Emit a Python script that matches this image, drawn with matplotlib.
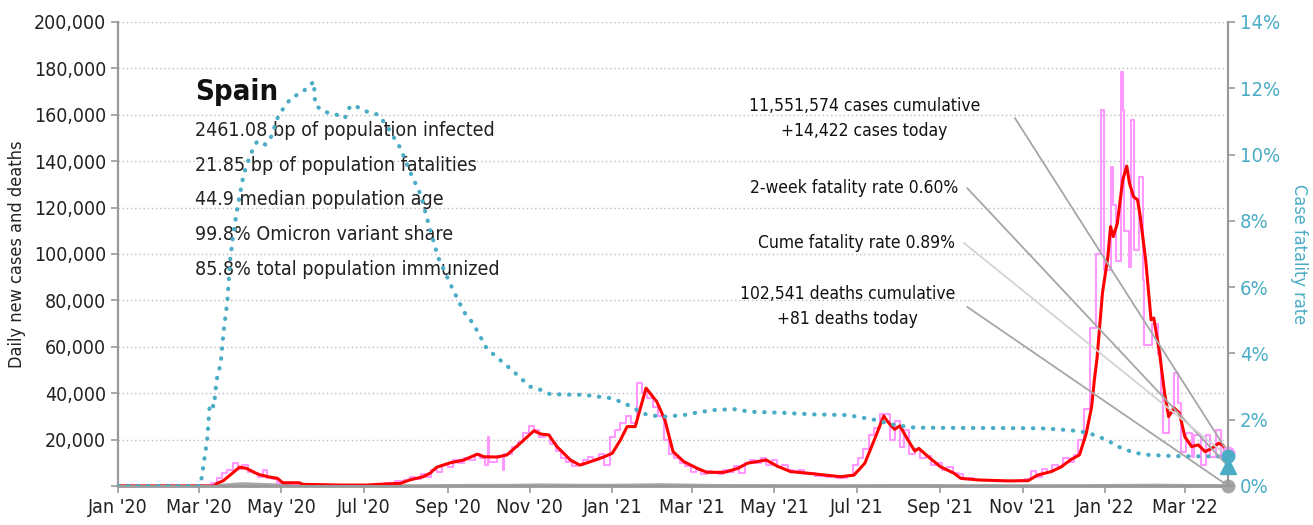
import pandas as pd
import matplotlib
matplotlib.use('Agg')
import matplotlib.pyplot as plt
import matplotlib.dates as mdates
from matplotlib.ticker import FuncFormatter, MultipleLocator

plt.rcParams['font.family'] = ['DejaVu Sans']
plt.rcParams['font.stretch'] = 'condensed'

# 7-day average of new cases (red)
avg_dates = ['2020-01-01', '2020-03-12', '2020-03-14', '2020-03-19', '2020-03-24', '2020-03-31',
             '2020-04-05', '2020-04-14', '2020-04-21', '2020-04-28', '2020-05-02', '2020-05-14',
             '2020-05-17', '2020-06-14', '2020-07-03', '2020-07-18', '2020-07-28', '2020-08-04',
             '2020-08-14', '2020-08-19', '2020-08-24', '2020-09-03', '2020-09-13', '2020-09-23',
             '2020-09-28', '2020-10-08', '2020-10-15', '2020-10-25', '2020-11-04', '2020-11-09',
             '2020-11-15', '2020-11-21', '2020-12-01', '2020-12-08', '2020-12-16', '2020-12-26',
             '2021-01-01', '2021-01-07', '2021-01-12', '2021-01-18', '2021-01-26', '2021-02-03',
             '2021-02-09', '2021-02-15', '2021-02-23', '2021-03-05', '2021-03-12', '2021-03-25',
             '2021-04-04', '2021-04-11', '2021-04-25', '2021-05-03', '2021-05-13', '2021-05-26',
             '2021-06-19', '2021-06-29', '2021-07-07', '2021-07-14', '2021-07-21', '2021-07-24',
             '2021-07-29', '2021-08-02', '2021-08-08', '2021-08-13', '2021-08-16', '2021-08-23',
             '2021-09-01', '2021-09-11', '2021-09-16', '2021-09-29', '2021-10-21', '2021-11-05',
             '2021-11-12', '2021-11-22', '2021-11-29', '2021-12-07', '2021-12-13', '2021-12-18',
             '2021-12-22', '2021-12-24', '2021-12-26', '2021-12-30', '2022-01-03', '2022-01-05',
             '2022-01-07', '2022-01-10', '2022-01-14', '2022-01-17', '2022-01-19', '2022-01-22',
             '2022-01-25', '2022-01-27', '2022-01-31', '2022-02-04', '2022-02-06', '2022-02-10',
             '2022-02-14', '2022-02-17', '2022-02-21', '2022-02-25', '2022-03-01', '2022-03-06',
             '2022-03-11', '2022-03-16', '2022-03-21', '2022-03-26', '2022-03-29', '2022-04-02']
avg_cases = [0, 0, 1000, 2300, 4700, 8100,
             7600, 5000, 4000, 3300, 1400, 1400,
             700, 400, 400, 900, 1100, 2600,
             4000, 5500, 8100, 10000, 11200, 13700,
             12600, 12500, 13400, 18500, 23800, 22400,
             22000, 17000, 11200, 9000, 10500, 12600,
             14100, 19800, 25600, 25600, 42200, 36300,
             28400, 14800, 10500, 7600, 5900, 5900,
             7600, 9800, 11200, 8600, 6200, 5500,
             4000, 4700, 9800, 19800, 30200, 27700,
             24400, 25900, 19800, 15100, 16200, 12600,
             8300, 5500, 3300, 2600, 2200, 2300,
             4700, 6200, 8100, 11500, 13400, 22700,
             34200, 45700, 55200, 83200, 98800, 111800,
             107500, 113200, 131900, 137900, 130500, 124700,
             123300, 116100, 97400, 71600, 72400, 58600,
             40100, 29900, 33600, 31500, 21200, 17000,
             17700, 14800, 16200, 18400, 17700, 14100]

# reported daily new cases (pink)
raw_dates = ['2020-01-01', '2020-03-05', '2020-03-10', '2020-03-14', '2020-03-18', '2020-03-22',
             '2020-03-26', '2020-03-30', '2020-04-02', '2020-04-06', '2020-04-10', '2020-04-14',
             '2020-04-17', '2020-04-20', '2020-04-24', '2020-04-28', '2020-05-02', '2020-05-08',
             '2020-05-15', '2020-05-20', '2020-05-25', '2020-06-15', '2020-07-01', '2020-07-10',
             '2020-07-17', '2020-07-24', '2020-07-31', '2020-08-04', '2020-08-08', '2020-08-12',
             '2020-08-16', '2020-08-20', '2020-08-24', '2020-08-28', '2020-09-01', '2020-09-05',
             '2020-09-09', '2020-09-13', '2020-09-17', '2020-09-21', '2020-09-25', '2020-09-29',
             '2020-10-01', '2020-10-02', '2020-10-08', '2020-10-12', '2020-10-13', '2020-10-19',
             '2020-10-23', '2020-10-27', '2020-10-31', '2020-11-04', '2020-11-08', '2020-11-12',
             '2020-11-16', '2020-11-20', '2020-11-24', '2020-11-28', '2020-12-02', '2020-12-06',
             '2020-12-10', '2020-12-14', '2020-12-18', '2020-12-22', '2020-12-26', '2020-12-30',
             '2021-01-03', '2021-01-07', '2021-01-11', '2021-01-15', '2021-01-19', '2021-01-23',
             '2021-01-27', '2021-01-31', '2021-02-04', '2021-02-08', '2021-02-12', '2021-02-16',
             '2021-02-20', '2021-02-24', '2021-02-28', '2021-03-04', '2021-03-08', '2021-03-12',
             '2021-03-16', '2021-03-20', '2021-03-24', '2021-03-28', '2021-04-01', '2021-04-05',
             '2021-04-09', '2021-04-13', '2021-04-17', '2021-04-21', '2021-04-25', '2021-04-29',
             '2021-05-03', '2021-05-07', '2021-05-11', '2021-05-15', '2021-05-19', '2021-05-23',
             '2021-05-27', '2021-05-31', '2021-06-04', '2021-06-08', '2021-06-12', '2021-06-16',
             '2021-06-20', '2021-06-24', '2021-06-28', '2021-07-02', '2021-07-06', '2021-07-10',
             '2021-07-14', '2021-07-18', '2021-07-22', '2021-07-26', '2021-07-29', '2021-08-02',
             '2021-08-05', '2021-08-09', '2021-08-13', '2021-08-17', '2021-08-21', '2021-08-25',
             '2021-08-29', '2021-09-02', '2021-09-06', '2021-09-10', '2021-09-14', '2021-09-18',
             '2021-09-22', '2021-09-26', '2021-10-01', '2021-10-10', '2021-10-20', '2021-10-30',
             '2021-11-03', '2021-11-07', '2021-11-11', '2021-11-15', '2021-11-19', '2021-11-23',
             '2021-11-27', '2021-12-01', '2021-12-05', '2021-12-09', '2021-12-12', '2021-12-16',
             '2021-12-21', '2021-12-25', '2021-12-29', '2021-12-31', '2022-01-05', '2022-01-07',
             '2022-01-09', '2022-01-13', '2022-01-14', '2022-01-15', '2022-01-19', '2022-01-20',
             '2022-01-22', '2022-01-26', '2022-01-29', '2022-01-30', '2022-02-05', '2022-02-09',
             '2022-02-11', '2022-02-13', '2022-02-17', '2022-02-21', '2022-02-24', '2022-02-26',
             '2022-03-02', '2022-03-06', '2022-03-08', '2022-03-13', '2022-03-17', '2022-03-20',
             '2022-03-24', '2022-03-28', '2022-04-02']
raw_cases = [0, 200, 1500, 3500, 5500, 7000,
             10000, 7500, 9000, 6000, 5500, 4000,
             7000, 3500, 3000, 1500, 1200, 800,
             500, 900, 300, 400, 500, 800,
             1200, 2000, 2500, 4000, 3000, 5000,
             4000, 7000, 6000, 9000, 8000, 11000,
             10000, 12000, 11000, 14000, 12000, 9000,
             21000, 10500, 13000, 7000, 14000, 17000,
             19000, 23000, 26000, 24000, 21000, 22000,
             18000, 15000, 12000, 10500, 8500, 9000,
             11000, 12500, 11000, 14000, 9000, 21000,
             24000, 27000, 30000, 27000, 44500, 40000,
             38000, 34000, 30000, 20000, 14000, 12000,
             10000, 8500, 6000, 7000, 5000, 6500,
             5500, 5000, 7000, 6000, 8500, 5500,
             10000, 11000, 10000, 12000, 9000, 11000,
             8000, 9000, 7000, 6500, 7000, 5000,
             5500, 4500, 4500, 4000, 4500, 3500,
             3500, 4500, 9000, 12000, 16000, 22000,
             25000, 31000, 31000, 20000, 28000, 17000,
             24000, 14000, 16000, 12000, 13000, 9000,
             10000, 7000, 8000, 5500, 5000, 3000,
             3500, 2500, 2500, 2000, 2200, 2500,
             3000, 6500, 4000, 7500, 6000, 9000,
             8000, 12000, 10500, 13500, 20000, 33000,
             68000, 100000, 162000, 93000, 137600, 121000,
             97000, 178600, 162000, 110000, 94500, 157800,
             101700, 133000, 88800, 60800, 70000, 57000,
             40000, 23000, 31500, 48700, 35800, 14700,
             22800, 12500, 22000, 9000, 22000, 12500,
             24000, 12500, 14422]

# 7-day average of deaths (grey)
death_dates = ['2020-01-01', '2020-03-08', '2020-03-20', '2020-04-02', '2020-04-15', '2020-05-01',
               '2020-05-20', '2020-07-01', '2020-08-15', '2020-09-15', '2020-10-15', '2020-11-10',
               '2020-12-10', '2021-01-01', '2021-02-05', '2021-02-25', '2021-03-20', '2021-05-01',
               '2021-06-15', '2021-08-10', '2021-09-15', '2021-11-01', '2021-12-15', '2022-01-25',
               '2022-02-10', '2022-03-01', '2022-04-02']
deaths = [0, 0, 300, 900, 600, 300,
          80, 10, 30, 150, 180, 350,
          200, 200, 450, 300, 100, 70,
          30, 120, 50, 30, 60, 200,
          250, 120, 81]

# case fatality rate, percent (teal, right axis)
cfr_dates = ['2020-01-01', '2020-03-02', '2020-03-03', '2020-03-07', '2020-03-09', '2020-03-12',
             '2020-03-14', '2020-03-17', '2020-03-19', '2020-03-22', '2020-03-24', '2020-03-26',
             '2020-03-29', '2020-04-03', '2020-04-08', '2020-04-13', '2020-04-19', '2020-04-23',
             '2020-04-29', '2020-05-08', '2020-05-17', '2020-05-25', '2020-05-26', '2020-06-01',
             '2020-06-11', '2020-06-17', '2020-06-20', '2020-06-23', '2020-07-03', '2020-07-12',
             '2020-07-19', '2020-07-28', '2020-08-04', '2020-08-12', '2020-08-18', '2020-08-25',
             '2020-09-03', '2020-09-13', '2020-09-20', '2020-09-30', '2020-10-10', '2020-10-20',
             '2020-11-01', '2020-11-09', '2020-11-16', '2020-12-11', '2020-12-21', '2020-12-31',
             '2021-01-10', '2021-01-17', '2021-01-27', '2021-02-08', '2021-02-23', '2021-03-05',
             '2021-03-17', '2021-04-01', '2021-04-13', '2021-05-06', '2021-05-30', '2021-06-24',
             '2021-07-14', '2021-07-29', '2021-08-13', '2021-11-14', '2021-11-27', '2021-12-09',
             '2021-12-19', '2021-12-27', '2022-01-03', '2022-01-13', '2022-01-23', '2022-02-02',
             '2022-02-21', '2022-04-02']
cfr = [0, 0, 0.28, 1.39, 2.5, 2.39,
       3.2, 3.7, 4.6, 5.6, 6.8, 7.5,
       8.3, 9.4, 10.0, 10.4, 10.3, 10.5,
       11.2, 11.7, 11.9, 12.2, 11.5, 11.3,
       11.2, 11.1, 11.4, 11.5, 11.3, 11.2,
       10.8, 10.2, 9.5, 8.8, 7.9, 6.9,
       6.1, 5.26, 4.9, 4.15, 3.8, 3.45,
       3.0, 2.9, 2.77, 2.75, 2.7, 2.65,
       2.5, 2.34, 2.14, 2.09, 2.14, 2.22,
       2.29, 2.32, 2.24, 2.21, 2.16, 2.14,
       2.0, 1.84, 1.76, 1.74, 1.71, 1.67,
       1.61, 1.49, 1.37, 1.14, 1.0, 0.94,
       0.9, 0.89]

stats_lines = ['2461.08 bp of population infected',
               '21.85 bp of population fatalities',
               '44.9 median population age',
               '99.8% Omicron variant share',
               '85.8% total population immunized']

last_day = pd.Timestamp('2022-04-02')
cases_today = 14422
deaths_today = 81
cfr_2week = 0.60
cfr_cume = 0.89

pink = '#FF99FF'
red = '#FF0000'
teal = '#4BACC6'
grey = '#A6A6A6'

fig = plt.figure(figsize=(13.13, 5.25), dpi=100)
ax = fig.add_axes([0.0899, 0.0743, 0.8454, 0.8838])
ax2 = ax.twinx()

ax.plot(pd.to_datetime(death_dates), deaths, color=grey, lw=2.5, zorder=2)
ax.plot(pd.to_datetime(raw_dates), raw_cases, color=pink, lw=1.5, drawstyle='steps-post', zorder=3)
ax.plot(pd.to_datetime(avg_dates), avg_cases, color=red, lw=2.2, zorder=4)
ax2.plot(pd.to_datetime(cfr_dates), cfr, color=teal, lw=3, linestyle=(0, (0.1, 2.3)),
         dash_capstyle='round', zorder=3)

ax.set_ylim(0, 200000)
ax2.set_ylim(0, 14)
ax.set_xlim(pd.Timestamp('2020-01-01'), last_day)

ax.yaxis.set_major_locator(MultipleLocator(20000))
ax.yaxis.set_major_formatter(FuncFormatter(lambda v, p: '' if v == 0 else f'{v:,.0f}'))
ax2.yaxis.set_major_locator(MultipleLocator(2))
ax2.yaxis.set_major_formatter(FuncFormatter(lambda v, p: f'{v:.0f}%'))
ax.xaxis.set_major_locator(mdates.MonthLocator(bymonth=[1, 3, 5, 7, 9, 11]))
ax.xaxis.set_major_formatter(mdates.DateFormatter("%b '%y"))

ax.grid(axis='y', color='#BBBBBB', linestyle=(0, (1, 2)), lw=1)
ax.set_axisbelow(True)
for a in (ax, ax2):
    a.spines['top'].set_visible(False)
    for s in ('left', 'right', 'bottom'):
        a.spines[s].set_color('#999999')
        a.spines[s].set_linewidth(1.5)
ax.spines['bottom'].set_linewidth(2)
ax.tick_params(axis='y', colors='#999999', labelcolor='#222222', labelsize=14, length=5, width=1.2)
ax.tick_params(axis='x', colors='#999999', labelcolor='#222222', labelsize=14, length=5, width=1.2)
ax2.tick_params(axis='y', colors='#999999', labelcolor=teal, labelsize=14.5, length=5, width=1.2)
ax.set_ylabel('Daily new cases and deaths', fontsize=13, color='#222222', labelpad=6)
ax2.set_ylabel('Case fatality rate', fontsize=13, color=teal, rotation=270, labelpad=20)

# end-of-series markers
ax.plot(last_day, cases_today, 'o', color=pink, ms=9, zorder=6, clip_on=False)
ax.plot(last_day, deaths_today, 'o', color=grey, ms=9, zorder=6, clip_on=False)
ax2.plot(last_day, cfr_cume, 'o', color=teal, ms=9, zorder=6, clip_on=False)
ax2.plot(last_day, cfr_2week, '^', color=teal, ms=11, zorder=6, clip_on=False)

# stats block
ax.text(0.0694, 0.849, 'Spain', transform=ax.transAxes, fontsize=21, color='#111111',
        va='center', ha='left', fontweight='bold')
for i, line in enumerate(stats_lines):
    ax.text(0.0694, 0.767 - i * 0.0753, line, transform=ax.transAxes, fontsize=14,
            color='#222222', va='center', ha='left')

# callouts
callouts = [
    ('11,551,574 cases cumulative\n+14,422 cases today', 0.7766, 0.793, 0.808, ax, cases_today, grey),
    ('2-week fatality rate 0.60%', 0.757, 0.642, 0.765, ax2, cfr_2week, grey),
    ('Cume fatality rate 0.89%', 0.754, 0.524, 0.762, ax2, cfr_cume, '#D3D3D3'),
    ('102,541 deaths cumulative\n+81 deaths today', 0.754, 0.386, 0.765, ax, deaths_today, grey),
]
for txt, tx, ty, lx, a, val, col in callouts:
    ax.text(tx, ty, txt, transform=ax.transAxes, fontsize=12.5, color='#111111',
            ha='right', va='center', multialignment='center', linespacing=1.5)
    a.annotate('', xy=(last_day, val), xycoords='data', xytext=(lx, ty),
               textcoords=ax.transAxes,
               arrowprops=dict(arrowstyle='-', color=col, lw=1.3, shrinkA=0, shrinkB=0),
               zorder=5)

fig.savefig('out.png', dpi=100)
